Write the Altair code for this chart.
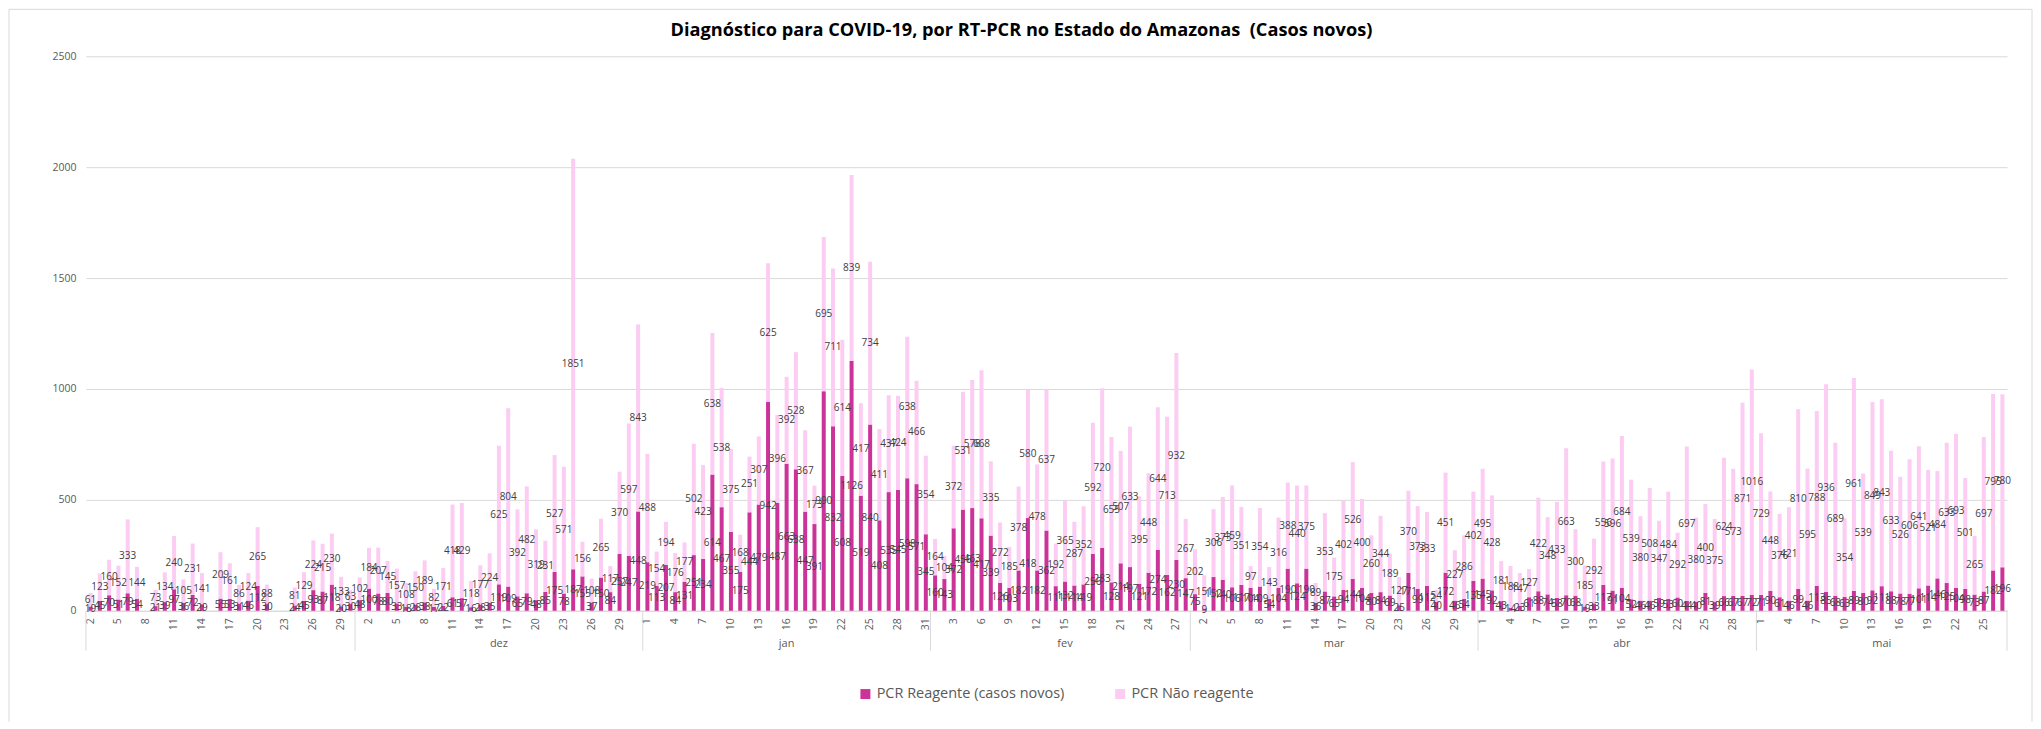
import altair as alt
import pandas as pd

TITLE = "Diagnóstico para COVID-19, por RT-PCR no Estado do Amazonas\u00a0 (Casos novos)"
SERIES = ["PCR Reagente (casos novos)", "PCR Não reagente"]
COLORS = ["#CC3399", "#FCCCF3"]
MONTHS = ["nov", "dez", "jan", "fev", "mar", "abr", "mai"]
MONTH_LABELS = ["", "dez", "jan", "fev", "mar", "abr", "mai"]
MONTH_DAYS = [(2, 30), (1, 31), (1, 31), (1, 28), (1, 31), (1, 30), (1, 27)]

# None = no bar that day
nov_pos = [19,45,70,51,79,54,None,21,39,97,36,72,29,None,55,53,31,46,112,30,None,None,24,45,93,87,118,20,30]
nov_neg = [61,123,160,152,333,144,None,73,134,240,105,231,141,None,209,161,86,124,265,88,None,None,81,129,224,215,230,133,63]
dez_pos = [48,100,78,80,33,18,28,38,17,22,61,57,16,28,35,119,109,65,79,48,85,175,78,187,155,37,150,84,257,247,448]
dez_neg = [102,184,207,145,157,108,150,189,82,171,418,429,118,177,224,625,804,392,482,319,231,527,571,1851,156,108,265,117,370,597,843]
jan_pos = [219,113,207,84,131,251,234,614,467,355,175,444,479,942,487,663,638,447,391,990,832,608,1126,519,840,408,535,545,598,571,345]
jan_neg = [488,154,194,176,177,502,423,638,538,375,168,251,307,625,396,392,528,367,173,695,711,614,839,417,734,411,437,424,638,466,354]
fev_pos = [160,143,372,456,463,417,339,126,103,182,418,182,362,111,132,114,119,256,283,128,214,197,121,172,274,162,230,147]
fev_neg = [164,104,372,531,578,668,335,272,185,378,580,478,637,192,365,287,352,592,720,655,507,633,395,448,644,713,932,267]
mar_pos = [75,9,152,140,106,117,104,109,54,104,190,124,190,36,87,65,94,144,104,80,84,69,25,171,99,112,40,172,46,54,135]
mar_neg = [202,151,306,373,459,351,97,354,143,316,388,440,375,89,353,175,402,526,400,260,344,189,127,370,373,333,54,451,227,286,402]
abr_pos = [145,92,43,14,23,61,88,74,58,70,68,19,33,117,91,104,52,46,46,59,53,60,44,40,81,39,66,67,67,72]
abr_neg = [495,428,181,188,147,127,422,348,433,663,300,185,292,556,596,684,539,380,508,347,484,292,697,380,400,375,624,573,871,1016]
mai_pos = [71,90,61,46,99,46,113,85,68,63,89,80,92,111,88,78,77,101,114,146,125,104,98,73,87,182,196]
mai_neg = [729,448,376,421,810,595,788,936,689,354,961,539,849,843,633,526,606,641,521,484,633,693,501,265,697,795,780]

POS = [nov_pos, dez_pos, jan_pos, fev_pos, mar_pos, abr_pos, mai_pos]
NEG = [nov_neg, dez_neg, jan_neg, fev_neg, mar_neg, abr_neg, mai_neg]

keys, rows, firsts, mids = [], [], [], []
for m, lab, (d0, d1), ps, ns in zip(MONTHS, MONTH_LABELS, MONTH_DAYS, POS, NEG):
    mk = []
    for d, p, n in zip(range(d0, d1 + 1), ps, ns):
        k = f"{m}-{d}"
        keys.append(k)
        mk.append(k)
        if p is None:
            continue
        rows.append({"key": k, "serie": SERIES[0], "ordem": 0, "valor": p, "meio": p / 2})
        rows.append({"key": k, "serie": SERIES[1], "ordem": 1, "valor": n, "meio": p + n / 2})
    firsts.append({"key": mk[0]})
    if lab:
        mids.append({"key": mk[len(mk) // 2], "mes": lab})

df = pd.DataFrame(rows)
tick_keys = keys[::3]

W, H = 1923, 555
FONT = "Open Sans"
GREY = "#595959"
LINE = "#D9D9D9"

x = alt.X(
    "key:N",
    sort=keys,
    scale=alt.Scale(domain=keys, paddingInner=0, paddingOuter=0),
    axis=alt.Axis(
        title=None, values=tick_keys, labelExpr="split(datum.value,'-')[1]",
        labelAngle=270, labelAlign="right", labelBaseline="middle",
        labelPadding=7, labelFontSize=10.5, labelColor=GREY, labelFont=FONT,
        labelOverlap=False, ticks=False, domainColor=LINE, grid=False,
    ),
)

bars = alt.Chart(df).mark_bar(size=4).encode(
    x=x,
    y=alt.Y(
        "valor:Q", stack="zero", scale=alt.Scale(domain=[0, 2500], nice=False),
        axis=alt.Axis(
            title=None, values=[0, 500, 1000, 1500, 2000, 2500], format="d", ticks=False, domain=False,
            gridColor=LINE, labelPadding=10, labelFontSize=10.5, labelColor=GREY, labelFont=FONT,
        ),
    ),
    color=alt.Color(
        "serie:N",
        scale=alt.Scale(domain=SERIES, range=COLORS),
        legend=alt.Legend(
            title=None, orient="none", legendX=773, legendY=631, direction="horizontal",
            symbolType="square", symbolSize=100, symbolStrokeWidth=0, labelFontSize=14.5,
            labelColor=GREY, labelFont=FONT, columnPadding=48, labelOffset=4, labelLimit=300,
        ),
    ),
    order=alt.Order("ordem:Q"),
)

labels = alt.Chart(df).mark_text(fontSize=10, color="#404040", font=FONT).encode(
    x=alt.X("key:N", sort=keys, scale=alt.Scale(domain=keys)),
    y=alt.Y("meio:Q"),
    text=alt.Text("valor:Q"),
)

sep = alt.Chart(pd.DataFrame(firsts)).mark_rule(color=LINE).encode(
    x=alt.X("key:N", sort=keys, bandPosition=0),
    y=alt.value(H), y2=alt.value(H + 40),
)
sep_end = alt.Chart(pd.DataFrame({"key": [keys[-1]]})).mark_rule(color=LINE).encode(
    x=alt.X("key:N", sort=keys, bandPosition=1),
    y=alt.value(H), y2=alt.value(H + 40),
)
month_text = alt.Chart(pd.DataFrame(mids)).mark_text(fontSize=11, color=GREY, font=FONT).encode(
    x=alt.X("key:N", sort=keys),
    y=alt.value(H + 33),
    text="mes:N",
)
frame_top = alt.Chart(pd.DataFrame({"a": [0]})).mark_rule(color=LINE).encode(
    x=alt.value(-77), x2=alt.value(1948), y=alt.value(-47),
)
frame_left = alt.Chart(pd.DataFrame({"a": [0]})).mark_rule(color=LINE).encode(
    x=alt.value(-77), y=alt.value(-47), y2=alt.value(666),
)
frame_right = alt.Chart(pd.DataFrame({"a": [0]})).mark_rule(color=LINE).encode(
    x=alt.value(1948), y=alt.value(-47), y2=alt.value(666),
)

chart = (
    alt.layer(frame_top, frame_left, frame_right, bars, sep, sep_end, labels, month_text)
    .properties(
        width=W, height=H, padding=0,
        title=alt.Title(
            TITLE, anchor="middle", frame="group", dx=-25, offset=-31,
            fontSize=18.2, font=FONT, fontWeight="bold", color="#000000",
        ),
    )
    .configure_view(stroke=None)
)
chart.save("out.html", embed_options={"renderer": "svg", "actions": False})
